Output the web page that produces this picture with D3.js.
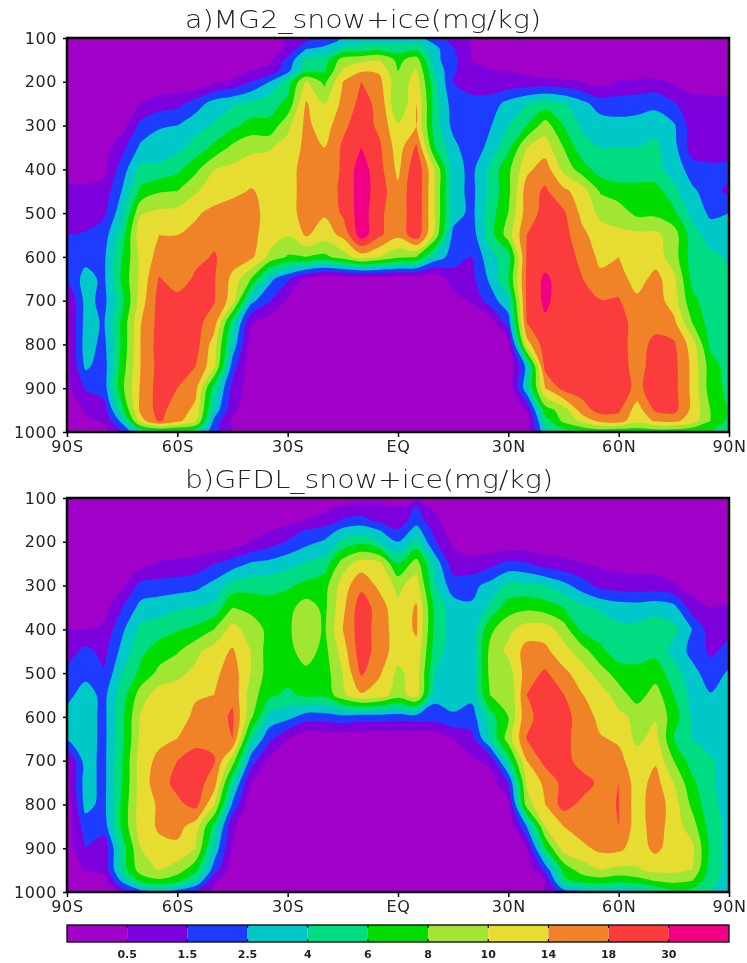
<!DOCTYPE html>
<html>
<head>
<meta charset="utf-8">
<script src="https://cdn.jsdelivr.net/npm/d3@7"></script>
<style>
  html, body { margin: 0; background: #fff; }
  svg { display: block; filter: blur(0.5px); }
  text { font-family: "DejaVu Sans", sans-serif; fill: #222; }
  .axis path, .axis line { stroke: #000; stroke-width: 1.5; }
  .axis text { font-size: 16px; letter-spacing: 0.6px; }
  .title { font-size: 24px; font-weight: 200; }
  .barlabel { font-size: 11px; font-weight: bold; text-anchor: middle; }
</style>
</head>
<body>
<div id="chart"></div>
<script>
// zonal mean snow+ice (mg/kg); rows are tighter near the top and the surface
var lats = d3.range(-90, 91, 5);
var pressures = [100, 125, 150, 175, 200, 250, 300, 350, 400, 450, 500, 550, 600, 650, 700, 750, 800, 850, 900, 950, 975, 1000];
var latTicks = [-90, -60, -30, 0, 30, 60, 90];
var latLabels = ["90S", "60S", "30S", "EQ", "30N", "60N", "90N"];
var pTicks = [100, 200, 300, 400, 500, 600, 700, 800, 900, 1000];
var levels = [0.5, 1.5, 2.5, 4, 6, 8, 10, 14, 18, 30];
var colors = ["#a000c8", "#7d00dc", "#1e3cff", "#00c8c8", "#00dc82", "#00dc00", "#a0e632", "#e6dc32", "#f08228", "#fa3c3c", "#f00082"];

var mg2Rows = [
  [.1,.1,.1,.1,.1,.1,.1,.1,.1,.1,.1,.1,.6,1,1.6,2.6,3,3,3,3,2,1,.4,.1,.1,.1,.1,.1,.1,.1,.1,.1,.1,.1,.1,.1,.1],
  [.1,.1,.1,.1,.1,.1,.1,.1,.1,.1,.1,.3,.7,2.5,3,4.5,5,5.5,5,5.5,3,1.6,.5,.1,.1,.1,.1,.1,.1,.1,.1,.1,.1,.1,.1,.1,.1],
  [.1,.1,.1,.1,.1,.1,.1,.1,.1,.1,.1,.4,1.8,4.5,5,9,9.5,10,7.5,9,3,1.8,.5,.3,.1,.1,.1,.1,.1,.1,.1,.1,.1,.1,.1,.1,.1],
  [.1,.1,.1,.1,.1,.1,.1,.1,.1,.2,.5,.8,2.2,5.5,5.8,10.5,13.5,13.5,8,10.5,3.8,1.7,.7,.6,.5,.4,.2,.2,.1,.1,.1,.1,.1,.1,.1,.1,.1],
  [.1,.1,.1,.1,.1,.1,.1,.1,.4,.7,1.5,2.5,5,10.5,7.5,14,18,15,8.5,12,4.5,1.5,.8,.8,.8,.8,.8,.7,.5,.3,.6,.8,.8,.4,.2,.2,.2],
  [.1,.1,.1,.2,.55,1,1.2,2,3.2,3.8,4.5,5.2,6.5,14.5,10,15,22,17,8,14,5,2,2,2,3,4,5,4.2,3,2,2,2,2.2,1.6,1,.9,.8],
  [.1,.1,.15,.3,1.8,2.4,2.5,3.5,4.2,5.5,6.8,6.5,9.5,15,12,17,25,17,10.5,14,5,2.2,1.8,2.4,4,6,9,6,3.8,3.3,3,3.2,3.5,2.7,1,.8,.8],
  [.1,.2,.3,1.2,2.8,3.2,3.6,4.8,6.5,8.5,9.5,9.8,11.5,15,14,20,30,20,12,20,6,3,1.8,3,5.5,10,12,8,4.8,4,4,4,4.5,3,1,.8,.8],
  [.2,.2,.35,2,4.5,4.5,5.5,7.5,10,11,12,12,13,15,15,20,35,22,13,28,10,3.2,2.2,4.5,7.5,13,16,9.5,7,5,4.5,4.5,4.5,3.5,2,1.8,1.8],
  [.8,.8,.9,2.6,6.5,7.8,8,9.8,12,13,14.3,13,13,15,15.5,21,35,24,15,28,10,3.2,2.2,4.5,7.5,16,20,15,12,7.8,7,7,7,4.5,2.8,2,1.2],
  [1,1,1.3,3.5,9.8,11,11.5,13.5,15,16,15,13,12.5,15.5,14.5,20,35,21,15,28,10,3.3,2.2,5,8,16,22,20,13,9.5,9,7.5,7.5,6.5,3.5,2.3,2.5],
  [1.5,1.6,2,5,13,14,14,15,17,17,15,12.5,10.2,14.5,12,15,35,20,15,26,9.5,2.2,2,5,9,18,24,23,15,12,11,11,11,9,5,3.3,3.3],
  [2,2.2,2.3,6,11,15.5,15,17,19,16,15,9.5,7.8,8,7.5,9,12,10,8.5,8,3.5,2,1.5,3.5,5,19,24,24,17,13,14,12,12,9,5,4.5,3.8],
  [1.7,3,2.3,6.5,11,19,16,20,19,13,8,3,1.7,.4,.1,.1,.1,.1,.1,.1,.1,1,1.2,2.8,6,20,32,24,18.5,15,16,12,15.5,11,5.5,4.8,4.2],
  [.4,3,2.2,5.5,12,22,22,22,19,12,3,1.6,.4,.1,.1,.1,.1,.1,.1,.1,.1,.3,.6,2,3.5,20,32,24,19,18.5,19,15,16,12,6.5,5,4.5],
  [.4,3,2.4,6.5,13.8,22,22,22,16,5,.7,.2,.1,.1,.1,.1,.1,.1,.1,.1,.1,.1,.1,.2,2,18,28,24,24,24,24,16,16,15,8,5,4.6],
  [.3,3.2,2.2,6.5,14,23,23,23,12,3.5,.3,.1,.1,.1,.1,.1,.1,.1,.1,.1,.1,.1,.1,.1,.3,12,25,25,25,25,25,15.5,23,20,12,5.5,5],
  [.3,2.8,2,7,14,22,22,18,11,2,.2,.1,.1,.1,.1,.1,.1,.1,.1,.1,.1,.1,.1,.1,.1,3,22,25,25,25,25,16,25,22,13,7,5],
  [.3,1.6,2,7.5,14.5,23,18,15,5,1.2,.2,.1,.1,.1,.1,.1,.1,.1,.1,.1,.1,.1,.1,.1,.1,3.5,14,22,24,24,24,17,24,22,13,7,5.5],
  [.2,.6,1,5.5,15,22,16,13,3.5,.8,.1,.1,.1,.1,.1,.1,.1,.1,.1,.1,.1,.1,.1,.1,.1,.6,7,9,16,23,20,12,20,22,13,8,6],
  [.2,.4,.6,3,12,20,15,11,2.2,.4,.1,.1,.1,.1,.1,.1,.1,.1,.1,.1,.1,.1,.1,.1,.1,.2,5,8.5,11,15,16,11,14.5,15,12,8,5.5],
  [.1,.1,.3,1.5,4,5,5,4.5,1.8,.5,.1,.1,.1,.1,.1,.1,.1,.1,.1,.1,.1,.1,.1,.1,.1,.2,3.5,5,6,6.5,6,6.5,6.5,6.5,6,6,5.5]
];

var gfdlRows = [
  [.1,.1,.1,.1,.1,.1,.1,.1,.1,.1,.1,.1,.1,.1,.1,.1,.3,.4,.3,.5,.1,.1,.1,.1,.1,.1,.1,.1,.1,.1,.1,.1,.1,.1,.1,.1,.1],
  [.1,.1,.1,.1,.1,.1,.1,.1,.1,.1,.1,.1,.1,.2,.4,.8,1,.7,.6,1.7,.4,.1,.1,.1,.1,.1,.1,.1,.1,.1,.1,.1,.1,.1,.1,.1,.1],
  [.1,.1,.1,.1,.1,.1,.1,.1,.1,.1,.1,.1,.3,.55,.9,1.6,1.8,1.2,.9,2,.8,.1,.1,.1,.1,.1,.1,.1,.1,.1,.1,.1,.1,.1,.1,.1,.1],
  [.1,.1,.1,.1,.1,.1,.1,.1,.1,.1,.2,.5,1,1.6,1.9,3,3.5,2.6,1.6,3.2,1.2,.2,.1,.1,.1,.1,.1,.1,.1,.1,.1,.1,.1,.1,.1,.1,.1],
  [.1,.1,.1,.1,.1,.1,.1,.1,.1,.2,.5,1,1.6,2.2,2.7,4.5,5.5,4,2.5,4.5,1.6,.4,.2,.1,.1,.1,.1,.1,.1,.1,.1,.1,.1,.1,.1,.1,.1],
  [.1,.1,.1,.1,.3,.6,.7,.9,1.5,2,2.7,3,3.5,4.2,5,9,12,11,6,9,3.5,1,.8,1.2,1.8,1.6,1,.8,.55,.4,.35,.3,.3,.2,.1,.1,.1],
  [.1,.1,.1,.4,1.8,1.9,2,2.2,3,4.8,5.2,5.2,5.7,6.5,7.2,12,17,13,9.5,12,4,2,2.2,3,4.5,4.5,4,3,2,1.2,1,.9,.9,.6,.3,.2,.2],
  [.2,.2,.3,1.5,3,3.4,3.8,4,4.5,8,7.5,7,7.3,9,7.5,13,25,16,11,14.5,5.5,3.2,2.7,4.5,7,7.5,7,6,4.5,3.8,3.3,3.2,3.5,3,1,.5,.6],
  [.5,.5,.7,2.3,4.5,5,5.8,6.5,8,11.5,9,7.5,7.6,9.5,7.7,14,25,16,12,14.5,5.5,3.2,3,7.5,9.5,12,12,9,5.5,5,4.5,4.5,5,4.5,2.5,1,1.2],
  [1,1.8,1.2,3,5.5,7,7.8,9.5,12,14.5,10,7,7.3,9,7.3,12,25,16,12,13,5,3.2,3.2,8.5,11,15.5,15,11.5,9,6.5,5,4.5,5.5,3.5,2.2,1.3,1.8],
  [1.8,2.2,1.6,4,6.5,8.5,9.5,11,13,16,10,7,7,7.5,7,10,20,14.5,9.5,12,4,3.2,3.2,8.5,9,16,20,15,12,9,7,7,7,5,3,2,2.7],
  [2.2,3.2,2.2,5,9,12,12,13.5,14,17,9,6.5,5.5,6.5,6.5,9.5,13.5,12,9,12,3,3,3,8,8,18,23,18.5,14.2,12,9,7,9,6,3.5,2.6,3],
  [3,3.3,2.2,5.5,10.5,12,12,15,16,20,8.5,3.5,3,2,2,2.2,2,2,1.9,2,2,2.4,2,5,8,17,23,23,16,13,11,9.5,9.8,7,3.8,3.2,3.2],
  [2.6,3.3,2.2,5.5,11,13,14,16.5,17,18,4.5,1.8,.5,.1,.1,.1,.1,.1,.1,.1,.1,.5,1.2,4,9,18.5,24,22,16,14.3,13.5,9.5,11.5,6,4,3.5,3.2],
  [.4,3.2,2.2,6,12,15,18,24,19,9,2,.4,.1,.1,.1,.1,.1,.1,.1,.1,.1,.1,.4,.8,5,14,22,24,16,15,15,12,13.5,8,5,4.2,3.5],
  [.3,3.2,2.2,6,12,16,22,24,16,4.5,.5,.1,.1,.1,.1,.1,.1,.1,.1,.1,.1,.1,.1,.2,1.5,10.5,15,22,24,17,18,12,15.5,10,6.5,4.2,3.5],
  [.2,3,2.2,6.5,12,14.5,17,22,10.5,2.3,.2,.1,.1,.1,.1,.1,.1,.1,.1,.1,.1,.1,.1,.1,.4,9,14,23,17,17,18.5,12,16.5,12,7.5,4.5,3.5],
  [.2,2,2,6.5,12,14.5,15.5,12,5.5,.7,.1,.1,.1,.1,.1,.1,.1,.1,.1,.1,.1,.1,.1,.1,.1,2.5,10,14,16,16,18,12,16,12,9,5,3.5],
  [.2,1.5,.8,5,10,13,13,10,3.5,.5,.1,.1,.1,.1,.1,.1,.1,.1,.1,.1,.1,.1,.1,.1,.1,.5,6,12,13,15,15,12,15,12,11,5.5,3.3],
  [.1,.6,.7,4.8,9,10.2,9,6.5,2,.2,.1,.1,.1,.1,.1,.1,.1,.1,.1,.1,.1,.1,.1,.1,.1,.1,1.8,6.5,9,10,9.5,9.8,11,11,10,5,3.5],
  [.1,.2,.3,2.8,6.5,7.5,6.5,4,.7,.1,.1,.1,.1,.1,.1,.1,.1,.1,.1,.1,.1,.1,.1,.1,.1,.1,.5,5.5,6.5,7,6.5,7,8,8.5,8,4.5,3.5],
  [.1,.1,.1,.8,2,2.8,2,1.2,.3,.1,.1,.1,.1,.1,.1,.1,.1,.1,.1,.1,.1,.1,.1,.1,.1,.1,.6,2,2.5,3,2.5,3,4,5.5,5,4,3.5]
];

var W = 747, H = 963;
var left = 67, right = 729, plotH = 394;

var svg = d3.select("#chart").append("svg")
  .attr("width", W)
  .attr("height", H)
  .attr("viewBox", "0 0 " + W + " " + H);

// contour in level-index space so bands share out evenly between grid points
var toIndex = d3.scaleLinear()
  .domain([0].concat(levels, [40]))
  .range(d3.range(levels.length + 2));

// grid index -> real coordinate (pressure rows are not evenly spaced)
var latAt = d3.scaleLinear().domain(d3.range(lats.length)).range(lats);
var presAt = d3.scaleLinear().domain(d3.range(pressures.length)).range(pressures);

function drawPanel(rows, top, id, title, titleX, titleW) {
  var x = d3.scaleLinear().domain([-90, 90]).range([left, right]);
  var y = d3.scaleLinear().domain([100, 1000]).range([top, top + plotH]);

  var values = d3.merge(rows).map(function (v) { return toIndex(v); });
  var bands = d3.contours()
    .size([lats.length, pressures.length])
    .thresholds(levels.map(function (l) { return toIndex(l); }))(values);

  // round off the grid's corners when tracing each ring
  var ring = d3.line()
    .x(function (p) { return x(latAt(p[0] - 0.5)); })
    .y(function (p) { return y(presAt(p[1] - 0.5)); })
    .curve(d3.curveCatmullRomClosed.alpha(0.5));

  function bandPath(d) {
    return d.coordinates.map(function (poly) {
      return poly.map(function (r) { return ring(r.slice(0, -1)); }).join("");
    }).join("");
  }

  svg.append("clipPath").attr("id", id)
    .append("rect")
    .attr("x", left).attr("y", top)
    .attr("width", right - left).attr("height", plotH);

  var g = svg.append("g").attr("clip-path", "url(#" + id + ")");
  g.append("rect")
    .attr("x", left).attr("y", top)
    .attr("width", right - left).attr("height", plotH)
    .attr("fill", colors[0]);
  g.selectAll("path")
    .data(bands)
    .enter().append("path")
    .attr("d", bandPath)
    .attr("fill-rule", "evenodd")
    .attr("fill", function (d, i) { return colors[i + 1]; });

  svg.append("rect")
    .attr("x", left).attr("y", top)
    .attr("width", right - left).attr("height", plotH)
    .attr("fill", "none")
    .attr("stroke", "#000")
    .attr("stroke-width", 2.5);

  svg.append("g").attr("class", "axis")
    .attr("transform", "translate(" + left + ",0)")
    .call(d3.axisLeft(y).tickValues(pTicks).tickSize(4).tickPadding(6).tickFormat(d3.format("d")))
    .select(".domain").remove();

  svg.append("g").attr("class", "axis")
    .attr("transform", "translate(0," + (top + plotH) + ")")
    .call(d3.axisBottom(x).tickValues(latTicks).tickSize(5).tickPadding(4)
      .tickFormat(function (d, i) { return latLabels[i]; }))
    .select(".domain").remove();

  svg.append("text")
    .attr("class", "title")
    .attr("x", titleX)
    .attr("y", top - 10)
    .attr("text-anchor", "middle")
    .attr("textLength", titleW)
    .attr("lengthAdjust", "spacingAndGlyphs")
    .text(title);
}

drawPanel(mg2Rows, 38, "clip-a", "a)MG2_snow+ice(mg/kg)", 363, 356);
drawPanel(gfdlRows, 498, "clip-b", "b)GFDL_snow+ice(mg/kg)", 369, 368);

// colour bar along the bottom
var barTop = 925, barH = 17;
var band = d3.scaleBand().domain(d3.range(colors.length)).range([left, right]);
var bar = svg.append("g");
bar.selectAll("rect")
  .data(colors)
  .enter().append("rect")
  .attr("x", function (d, i) { return band(i); })
  .attr("y", barTop)
  .attr("width", band.bandwidth())
  .attr("height", barH)
  .attr("fill", function (d) { return d; });
bar.append("rect")
  .attr("x", left).attr("y", barTop)
  .attr("width", right - left).attr("height", barH)
  .attr("fill", "none")
  .attr("stroke", "#111")
  .attr("stroke-width", 1.4);
levels.forEach(function (l, i) {
  var bx = band(i + 1);
  bar.append("line").attr("x1", bx).attr("x2", bx).attr("y1", barTop).attr("y2", barTop + 3).attr("stroke", "#111").attr("stroke-width", 1.2);
  bar.append("line").attr("x1", bx).attr("x2", bx).attr("y1", barTop + barH - 3).attr("y2", barTop + barH).attr("stroke", "#111").attr("stroke-width", 1.2);
  bar.append("text").attr("class", "barlabel").attr("x", bx).attr("y", barTop + barH + 16).text(l);
});
</script>
</body>
</html>
